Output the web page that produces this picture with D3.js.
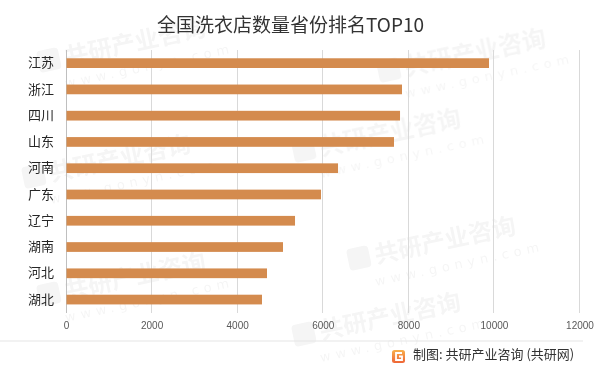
<!DOCTYPE html>
<html>
<head>
<meta charset="utf-8">
<script src="https://cdn.jsdelivr.net/npm/d3@7"></script>
<style>
  body { margin: 0; background: #fff; }
  svg { display: block; }
</style>
</head>
<body>
<script>
// values
var provinces = ["江苏", "浙江", "四川", "山东", "河南", "广东", "辽宁", "湖南", "河北", "湖北"];
var storeCounts = [9885, 7852, 7806, 7665, 6357, 5959, 5352, 5071, 4697, 4580];
var xTicks = [0, 2000, 4000, 6000, 8000, 10000, 12000];

var chartTitle = "全国洗衣店数量省份排名TOP10";
var sourceText = "制图: 共研产业咨询 (共研网)";

// faint watermark spots (kept inside the picture)
var marks = [[130, 52], [470, 62], [385, 142], [115, 168], [130, 286], [440, 250], [385, 326]];

var width = 601, height = 373;
var plot = { top: 50, bottom: 312.7, left: 66, right: 579.5 };

var svg = d3.select("body").append("svg")
  .attr("width", width)
  .attr("height", height);

// watermarks
var wm = svg.append("g").attr("opacity", 0.04);
marks.forEach(function(p){
  var g = wm.append("g").attr("transform", "translate(" + p[0] + "," + p[1] + ") rotate(-12)");
  g.append("rect")
    .attr("x", -92).attr("y", -20).attr("width", 22).attr("height", 22).attr("rx", 4)
    .attr("fill", "#000");
  g.append("text")
    .attr("x", -65).attr("y", 0)
    .attr("font-family", "Noto Sans CJK SC")
    .attr("font-weight", "bold")
    .attr("font-size", 24)
    .attr("fill", "#000")
    .text("共研产业咨询");
  g.append("text")
    .attr("x", -70).attr("y", 22)
    .attr("font-family", "DejaVu Sans")
    .attr("font-size", 13)
    .attr("letter-spacing", 5)
    .attr("fill", "#000")
    .text("www.gonyn.com");
});

var xScale = d3.scaleLinear()
  .domain([0, 12000])
  .range([plot.left, plot.right]);

var yScale = d3.scaleBand()
  .domain(provinces)
  .range([plot.top, plot.bottom])
  .paddingInner(0.63)
  .paddingOuter(0.315);

// gridlines
svg.append("g")
  .selectAll("line")
  .data(xTicks)
  .enter()
  .append("line")
  .attr("x1", function(d){ return xScale(d); })
  .attr("x2", function(d){ return xScale(d); })
  .attr("y1", plot.top)
  .attr("y2", plot.bottom)
  .attr("stroke", function(d){ return d === 0 ? "#bfbfbf" : "#d9d9d9"; })
  .attr("stroke-width", 1)
  .attr("shape-rendering", "crispEdges");

// x tick labels
var xAxis = d3.axisBottom(xScale).tickValues(xTicks).tickSize(0).tickPadding(0).tickFormat(d3.format("d"));
var xg = svg.append("g")
  .attr("transform", "translate(0," + (plot.bottom + 9) + ")")
  .call(xAxis);
xg.select(".domain").remove();
xg.selectAll("text")
  .attr("font-family", "Liberation Sans, Arial, sans-serif")
  .attr("font-size", 10)
  .attr("fill", "#595959");

// y labels
var yAxis = d3.axisLeft(yScale).tickSize(0).tickPadding(12);
var yg = svg.append("g")
  .attr("transform", "translate(" + plot.left + ",0)")
  .call(yAxis);
yg.select(".domain").remove();
yg.selectAll("text")
  .attr("font-family", "Noto Sans CJK SC")
  .attr("font-size", 13)
  .attr("fill", "#262626");

// bars
svg.append("g")
  .selectAll("rect")
  .data(storeCounts)
  .enter()
  .append("rect")
  .attr("x", xScale(0) + 0.5)
  .attr("y", function(d, i){ return yScale(provinces[i]); })
  .attr("width", function(d){ return xScale(d) - xScale(0) - 0.5; })
  .attr("height", yScale.bandwidth())
  .attr("fill", "#d48b4e");

// title
svg.append("text")
  .attr("x", 290.5)
  .attr("y", 32)
  .attr("text-anchor", "middle")
  .attr("font-family", "Noto Sans CJK SC")
  .attr("font-size", 19)
  .attr("fill", "#333")
  .text(chartTitle);

// footer divider
svg.append("line")
  .attr("x1", 0).attr("x2", 583)
  .attr("y1", 341).attr("y2", 341)
  .attr("stroke", "#e6e6e6")
  .attr("stroke-width", 1.2);

// footer logo
var grad = svg.append("defs").append("linearGradient")
  .attr("id", "logoGrad")
  .attr("x1", 0).attr("y1", 0).attr("x2", 0).attr("y2", 1);
grad.append("stop").attr("offset", "0%").attr("stop-color", "#f8b04c");
grad.append("stop").attr("offset", "100%").attr("stop-color", "#ee6537");

svg.append("rect")
  .attr("x", 392).attr("y", 350).attr("width", 13).attr("height", 13).attr("rx", 2.5)
  .attr("fill", "url(#logoGrad)");
svg.append("path")
  .attr("d", "M402,353 H396 V360 H402 V356.5 H399")
  .attr("fill", "none")
  .attr("stroke", "#fff")
  .attr("stroke-width", 1.8);

svg.append("text")
  .attr("x", 413)
  .attr("y", 359)
  .attr("font-family", "Noto Sans CJK SC")
  .attr("font-size", 13)
  .attr("fill", "#333")
  .text(sourceText);
</script>
</body>
</html>
